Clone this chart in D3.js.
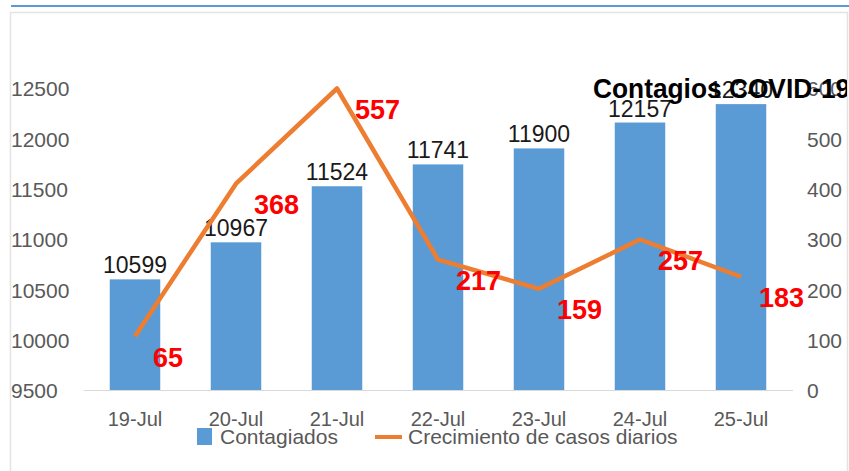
<!DOCTYPE html>
<html>
<head>
<meta charset="utf-8">
<script src="https://cdn.jsdelivr.net/npm/d3@7"></script>
<style>
  body { margin: 0; background: #fff; }
  svg { display: block; }
</style>
</head>
<body>
<div id="chart"></div>
<script>
var fechas = ["19-Jul", "20-Jul", "21-Jul", "22-Jul", "23-Jul", "24-Jul", "25-Jul"];
var contagiados = [10599, 10967, 11524, 11741, 11900, 12157, 12340];
var casosDiarios = [65, 368, 557, 217, 159, 257, 183];
var ticksIzq = [9500, 10000, 10500, 11000, 11500, 12000, 12500];
var ticksDer = [0, 100, 200, 300, 400, 500, 600];

var width = 849,
    height = 471;

var sans = "'Liberation Sans', Arial, sans-serif";

var svg = d3.select("#chart")
  .append("svg")
  .attr("width", width)
  .attr("height", height);

svg.append("rect").attr("width", width).attr("height", height).attr("fill", "#fff");

svg.append("clipPath").attr("id", "marco")
  .append("rect").attr("x", 11).attr("y", 13).attr("width", 836).attr("height", 460);

// linea azul superior y marco del grafico
svg.append("rect").attr("x", 11).attr("y", 5).attr("width", width - 11).attr("height", 2).attr("fill", "#5b9bd5");
svg.append("rect")
  .attr("x", 10.5).attr("y", 12.5)
  .attr("width", 837).attr("height", 470)
  .attr("fill", "none").attr("stroke", "#e3e3e3").attr("stroke-width", 1.5);

var g = svg.append("g").attr("clip-path", "url(#marco)");

var x = d3.scaleBand()
  .domain(fechas)
  .range([84.5, 791.5])
  .paddingInner(0.5)
  .paddingOuter(0.25);

var y = d3.scaleLinear().domain([9500, 12500]).range([390, 88]);
var y2 = d3.scaleLinear().domain([0, 600]).range([390, 88]);
// la serie de la linea esta desplazada respecto al eje derecho en el original
var yLinea = d3.scaleLinear().domain([-42, 558]).range([390, 88]);

// ejes (solo texto)
g.append("g").selectAll("text")
  .data(ticksIzq).enter().append("text")
  .attr("x", 11)
  .attr("y", function(d) { return y(d) + 1; })
  .attr("dy", "0.35em")
  .style("font", "21px " + sans)
  .attr("fill", "#595959")
  .text(function(d) { return d; });

g.append("g").selectAll("text")
  .data(ticksDer).enter().append("text")
  .attr("x", 807)
  .attr("y", function(d) { return y2(d) + 1; })
  .attr("dy", "0.35em")
  .style("font", "21px " + sans)
  .attr("fill", "#595959")
  .text(function(d) { return d; });

// barras
g.selectAll(".barra")
  .data(contagiados).enter().append("rect")
  .attr("class", "barra")
  .attr("x", function(d, i) { return x(fechas[i]); })
  .attr("y", function(d) { return y(d); })
  .attr("width", x.bandwidth())
  .attr("height", function(d) { return y(9500) - y(d); })
  .attr("fill", "#5b9bd5");

g.append("line")
  .attr("x1", 84).attr("x2", 793)
  .attr("y1", 390.5).attr("y2", 390.5)
  .attr("stroke", "#d9d9d9").attr("stroke-width", 1.2);

g.append("g").selectAll("text")
  .data(fechas).enter().append("text")
  .attr("x", function(d) { return x(d) + x.bandwidth() / 2; })
  .attr("y", 419)
  .attr("dy", "0.35em")
  .attr("text-anchor", "middle")
  .style("font", "20px " + sans)
  .attr("fill", "#595959")
  .text(function(d) { return d; });

// etiquetas de barras
g.append("g").selectAll("text")
  .data(contagiados).enter().append("text")
  .attr("x", function(d, i) { return x(fechas[i]) + x.bandwidth() / 2; })
  .attr("y", function(d) { return y(d) - 6; })
  .attr("text-anchor", "middle")
  .style("font", "23px " + sans)
  .attr("fill", "#1a1a1a")
  .text(function(d) { return d; });

// linea de crecimiento
var linea = d3.line()
  .x(function(d, i) { return x(fechas[i]) + x.bandwidth() / 2; })
  .y(function(d) { return yLinea(d); });

g.append("path")
  .datum(casosDiarios)
  .attr("d", linea)
  .attr("fill", "none")
  .attr("stroke", "#ed7d31")
  .attr("stroke-width", 4.5)
  .attr("stroke-linejoin", "round");

g.append("g").selectAll("text")
  .data(casosDiarios).enter().append("text")
  .attr("x", function(d, i) { return x(fechas[i]) + x.bandwidth() / 2 + 18; })
  .attr("y", function(d) { return yLinea(d) + 21; })
  .attr("dy", "0.35em")
  .style("font", "bold 27px " + sans)
  .attr("fill", "#ff0000")
  .text(function(d) { return d; });

// titulo (recortado por el borde derecho como en el original)
g.append("text")
  .attr("transform", "translate(593,98) scale(0.94,1)")
  .style("font", "bold 28px " + sans)
  .attr("fill", "#000")
  .text("Contagios COVID-19");

// leyenda
var leyenda = g.append("g");
leyenda.append("rect")
  .attr("x", 197).attr("y", 428).attr("width", 15).attr("height", 17)
  .attr("fill", "#5b9bd5");
leyenda.append("text")
  .attr("x", 220).attr("y", 437).attr("dy", "0.35em")
  .style("font", "21px " + sans).attr("fill", "#595959")
  .text("Contagiados");
leyenda.append("line")
  .attr("x1", 375).attr("x2", 402).attr("y1", 437).attr("y2", 437)
  .attr("stroke", "#ed7d31").attr("stroke-width", 4);
leyenda.append("text")
  .attr("x", 408).attr("y", 437).attr("dy", "0.35em")
  .style("font", "21px " + sans).attr("fill", "#595959")
  .text("Crecimiento de casos diarios");
</script>
</body>
</html>
